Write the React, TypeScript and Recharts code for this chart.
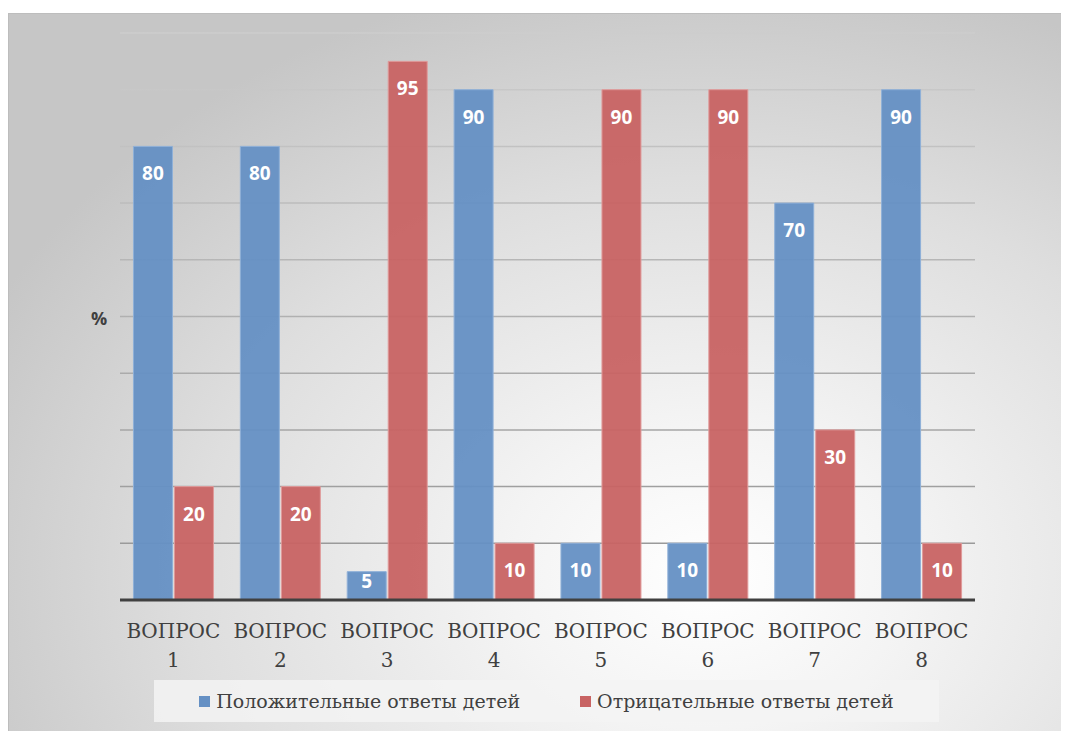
import { Bar, BarChart, CartesianGrid, LabelList, XAxis, YAxis } from "recharts";

const questions = ["1", "2", "3", "4", "5", "6", "7", "8"];
const positive = [80, 80, 5, 90, 10, 10, 70, 90];
const negative = [20, 20, 95, 10, 90, 90, 30, 10];
const yTicks = [0, 10, 20, 30, 40, 50, 60, 70, 80, 90, 100];

const posName = "Положительные ответы детей";
const negName = "Отрицательные ответы детей";

const data = questions.map((q, i) => ({
  name: q,
  pos: positive[i],
  neg: negative[i],
}));

const BLUE = "#6590c4";
const RED = "#c86363";
const SERIF = "DejaVu Serif";

function QuestionTick(props: any) {
  const { x, y, payload } = props;
  return (
    <g transform={`translate(${x},${y})`}>
      <text textAnchor="middle" fill="#404040" fontFamily={SERIF} fontSize={20}>
        <tspan x={0} dy={30}>
          ВОПРОС
        </tspan>
        <tspan x={0} dy={29}>
          {payload.value}
        </tspan>
      </text>
    </g>
  );
}

function ValueLabel(props: any) {
  const { x, y, width, height, value } = props;
  const cy = height > 40 ? y + 27 : y + 9;
  return (
    <text
      x={x + width / 2}
      y={cy}
      textAnchor="middle"
      dominantBaseline="central"
      fill="#ffffff"
      fontFamily="Open Sans"
      fontWeight={700}
      fontSize={19}
    >
      {value}
    </text>
  );
}

function LegendItem({ color, label }: { color: string; label: string }) {
  return (
    <span style={{ display: "inline-flex", alignItems: "center", margin: "0 30px" }}>
      <span
        style={{
          width: 11,
          height: 11,
          background: color,
          marginRight: 6,
          display: "inline-block",
        }}
      />
      {label}
    </span>
  );
}

export default function App() {
  return (
    <div style={{ paddingTop: 5 }}>
      <div
        style={{
          position: "relative",
          width: 1060,
          height: 720,
          border: "1px solid #bdbdbd",
          background:
            "radial-gradient(ellipse 75% 85% at 66% 78%, #ffffff 0%, #f4f4f4 25%, #dedede 65%, #c6c6c6 100%)",
        }}
      >
        <BarChart
          width={1060}
          height={720}
          data={data}
          margin={{ top: 19, right: 94, left: 111, bottom: 104 }}
          barCategoryGap="12.6%"
          barGap={2}
        >
          <defs>
            <linearGradient id="gridFade" gradientUnits="userSpaceOnUse" x1="0" y1="20" x2="0" y2="600">
              <stop offset="0%" stopColor="#cdcdcd" />
              <stop offset="100%" stopColor="#939393" />
            </linearGradient>
          </defs>
          <CartesianGrid vertical={false} stroke="url(#gridFade)" strokeWidth={1.5} />
          <YAxis
            domain={[0, 100]}
            ticks={yTicks}
            width={0}
            tick={() => <g />}
            axisLine={false}
            tickLine={false}
          />
          <XAxis
            dataKey="name"
            tick={<QuestionTick />}
            tickLine={false}
            axisLine={{ stroke: "#404040", strokeWidth: 3 }}
            interval={0}
          />
          <Bar
            dataKey="pos"
            name={posName}
            fill={BLUE}
            fillOpacity={0.95}
            stroke="#8fb0d8"
            strokeWidth={1}
            isAnimationActive={false}
          >
            <LabelList dataKey="pos" content={<ValueLabel />} />
          </Bar>
          <Bar
            dataKey="neg"
            name={negName}
            fill={RED}
            fillOpacity={0.95}
            stroke="#e09a9a"
            strokeWidth={1}
            isAnimationActive={false}
          >
            <LabelList dataKey="neg" content={<ValueLabel />} />
          </Bar>
        </BarChart>
        <div
          style={{
            position: "absolute",
            left: 82,
            top: 292,
            fontFamily: "Open Sans",
            fontWeight: 700,
            fontSize: 18,
            color: "#404040",
          }}
        >
          %
        </div>
        <div
          style={{
            position: "absolute",
            left: 145,
            top: 666,
            width: 785,
            height: 42,
            background: "rgba(243,243,243,0.85)",
            display: "flex",
            alignItems: "center",
            justifyContent: "center",
            fontFamily: SERIF,
            fontSize: 19,
            color: "#404040",
          }}
        >
          <LegendItem color={BLUE} label={posName} />
          <LegendItem color={RED} label={negName} />
        </div>
      </div>
    </div>
  );
}
